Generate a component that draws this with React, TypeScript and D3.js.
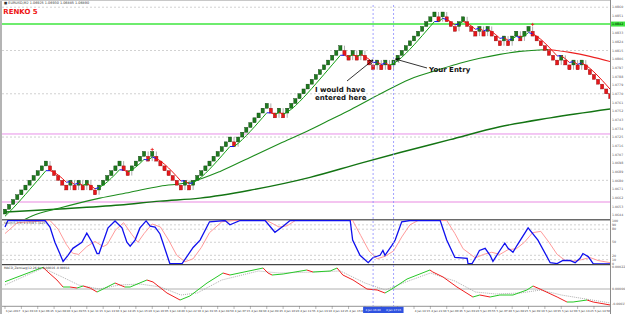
import React from "react";
import * as d3 from "d3";

const W = 625;
const H = 314;

// renko bricks (5 pip box), signed runs read left to right
const brickRuns = [
  11, -5, 1, -1, 1, -1, 1, -2, 6, -2, 4, -1, 1, -7, 1, -1, 10, -1, 1, 7, -2, 1, -1, 14,
  -1, -1, 1, -1, 1, -1, -1, -1, 1, -1, 1, -1, 1, 10,
  -1, 1, -1, -1, -1, 1, 1, -1, -1, -1, 1, -1, 1, -1, -1, -1, 1,
  -1, 1, 1, -1, 1, 1, -7, 1, -2, 1, -1, 1, -7,
];
const BOX = 5;
const BASE_PRICE = 1.0645;
const PIP = 0.0001;

// price levels in pips above base
const greenLevels = [197.5];
const pinkLevels = [83.2, 12.5];
const gridLevels = [35, 80, 125, 170, 215];

// moving averages [brick index, pips]
const midMA = [
  [3.7, -8.2], [6.6, -2.1], [13.4, 6.2], [23.2, 16.5], [30.6, 22.7], [37.9, 28.9], [45.2, 33],
  [52.6, 44.3], [59.9, 58.8], [67.2, 73.2], [74.6, 87.6], [79, 96.9], [84.4, 108.2], [91.7, 124.7],
  [99, 140.2], [106.4, 150.5], [111.2, 156.7], [116.1, 161.9], [121, 166], [125.9, 169.1],
  [132.8, 171.1], [138.1, 168], [143, 163.9], [148, 158.5],
];
const slowMA = [
  [0, 2.1], [13.4, 5.2], [28.1, 9.3], [37.9, 13.4], [47.7, 16.5], [59.9, 24.7], [74.6, 38.1],
  [86.8, 52.6], [96.6, 63.9], [108.8, 77.3], [121, 90.7], [133.3, 100], [148, 109.3],
];
const FAST_PERIOD = 5;
const FAST_SEED = -6;

// stochastic [brick index, value]
const stochMain = [
  [0, 85], [0.7, 100], [9.8, 100], [11, 85], [12.2, 50], [13.4, 24], [14.2, 6], [15.4, 20], [16.6, 36],
  [18.8, 50], [20, 71], [21.3, 50], [22.5, 24], [23, 24], [23.7, 43], [25.2, 83], [26.9, 99], [28.6, 83],
  [29.8, 50], [30.6, 41], [31.8, 55], [33, 83], [34.5, 99], [35.5, 87], [36.7, 85], [37.9, 69], [40.3, 1],
  [43.3, 1], [46, 38], [47.7, 55], [50, 97], [53.8, 100], [55, 90], [57.5, 100], [63.6, 100], [66, 73],
  [68, 87], [69.7, 100], [84.4, 100], [85, 55], [86.8, 20], [88.8, 3], [90, 15], [91.7, 20], [92.4, 31],
  [92.9, 20], [94.6, 43], [95.4, 55], [97, 97], [99, 100], [106.4, 100], [108, 55], [110, 15], [113, 13],
  [113.2, 1], [114.2, 1], [115.4, 20], [116, 31], [117.4, 36], [118.6, 20], [119.3, 6], [121, 31],
  [122.2, 48], [123, 36], [124.2, 27], [125.2, 43], [127.9, 83], [130.3, 55], [133.3, 3], [135, 1],
  [136.4, 8], [138.1, 8], [139.4, 3], [140.6, 13], [141.3, 24], [142.6, 17], [143.8, 1], [148, 0],
];
const stochSignal = [
  [0, 70], [3, 95], [11, 100], [13, 80], [15, 45], [16.5, 25], [18, 22], [20, 40], [22, 52], [24, 40],
  [25, 45], [27, 78], [29, 95], [31, 68], [32.5, 50], [34, 70], [36, 92], [38, 85], [40, 55], [42, 20],
  [44, 5], [46, 12], [48, 38], [50, 72], [53, 97], [56, 100], [64, 100], [67, 85], [69, 88], [71, 100],
  [85, 100], [87, 65], [89, 30], [91, 12], [93, 18], [95, 30], [97, 62], [99, 90], [101, 100], [108, 100],
  [110, 70], [112, 35], [115, 14], [117, 22], [119, 27], [121, 22], [123, 33], [125, 35], [127, 50],
  [129, 72], [131, 75], [133, 50], [135, 22], [137, 8], [139, 7], [141, 10], [143, 15], [145, 8], [148, 3],
];
const stochLevels = [90, 80, 50, 20, 10];

// oscillator (pips x10) [brick index, value]
const macdMain = [
  [0, 0.73], [9.3, 2.17], [10.5, 1.7], [12.7, 0.9], [14.2, 0.2], [15.9, 0.2], [17.6, 0.1], [19.1, 0.3],
  [20.8, 0.1], [22.5, -0.3], [24, 0], [26.9, 0.6], [29.3, 0.2], [30.6, 0.2], [34.7, 0.9], [36.2, 0.7],
  [39.6, -0.4], [42.8, -1.1], [45.2, -0.7], [49.4, 0.6], [53.3, 1.6], [55, 1.4], [63.1, 2.1], [64.3, 1.6],
  [65.3, 1.4], [68, 1.5], [73.8, 1.9], [75.3, 1.7], [79.5, 1.8], [81.2, 2.1], [82.6, 1.4], [85.1, 0.9],
  [88.5, 0], [91, -0.1], [92.9, -0.4], [94.6, 0], [98.3, 1], [103.9, 1.9], [104.6, 1.7], [107.1, 1.2],
  [110.5, 0.2], [114.4, -0.8], [116.1, -0.6], [118.6, -0.8], [121, -0.6], [124.2, -0.6], [127.6, -0.1],
  [129.1, 0.3], [130.8, 0], [135, -0.8], [137.4, -1.3], [138.9, -1.3], [142.3, -1.1], [143.8, -1.3],
  [148, -1.6],
];
const macdSignal = [
  [0, 0.4], [9.3, 2.1], [14, 1.2], [18, 0.4], [23, 0], [28, 0.4], [33, 0.5], [38, 0.2], [43, -0.6],
  [47, -0.4], [53, 0.9], [62, 1.8], [67, 1.6], [76, 1.7], [82, 1.8], [88, 0.6], [93, -0.1], [98, 0.7],
  [104, 1.6], [110, 0.8], [115, -0.3], [120, -0.5], [126, -0.4], [131, -0.1], [136, -0.6], [142, -1],
  [148, -1.4],
];

const timeLabels = [
  "3 Jan 2017", "3 Jan 03:10", "3 Jan 06:25", "3 Jan 08:40", "3 Jan 09:55", "3 Jan 11:15", "3 Jan 13:30",
  "3 Jan 14:45", "3 Jan 15:20", "3 Jan 16:05", "3 Jan 18:40", "3 Jan 22:10", "4 Jan 01:35", "4 Jan 04:50",
  "4 Jan 07:15", "4 Jan 08:30", "4 Jan 09:45", "4 Jan 10:20", "4 Jan 11:55", "4 Jan 13:10", "4 Jan 14:25",
  "4 Jan 15:05", "4 Jan 15:40", "4 Jan 16:35", "4 Jan 17:50", "4 Jan 19:15", "4 Jan 21:30", "5 Jan 00:45",
  "5 Jan 03:20", "5 Jan 05:55", "5 Jan 07:40", "5 Jan 08:25", "5 Jan 09:10", "5 Jan 10:35", "5 Jan 12:00",
  "5 Jan 13:25", "5 Jan 14:50",
];
const entryBricks = [90, 95];
const entryTimes = ["4 Jan 16:40", "4 Jan 17:15"];
const signalBricks = [36, 129];

// build bricks
type Brick = { i: number; lo: number; hi: number; dir: number; wl: number; wh: number };
const bricks: Brick[] = [];
{
  let low = -1;
  let prev = 1;
  brickRuns.forEach((r) => {
    const d = Math.sign(r);
    for (let k = 0; k < Math.abs(r); k++) {
      low += d;
      const lo = low * BOX;
      const hi = lo + BOX;
      let wl = lo;
      let wh = hi;
      if (bricks.length && d !== prev) {
        if (d < 0) wh = hi + BOX;
        else wl = lo - BOX;
      }
      bricks.push({ i: bricks.length, lo, hi, dir: d, wl, wh });
      prev = d;
    }
  });
}

const fastAlpha = 2 / (FAST_PERIOD + 1);
const fastMA: number[] = [];
{
  let e = FAST_SEED;
  bricks.forEach((b) => {
    const c = b.dir > 0 ? b.hi : b.lo;
    e = e + fastAlpha * (c - e);
    fastMA.push(e);
  });
}

const PL = 2;
const PR = 610;
const MAIN = [5, 219];
const STO = [220, 264];
const OSC = [265, 306];

const x = d3.scaleLinear().domain([0, bricks.length - 1]).range([5, 5 + (bricks.length - 1) * 4.09]);
const yMain = d3.scaleLinear().domain([-5.2, 217.3]).range([MAIN[1], MAIN[0]]);
const ySto = d3.scaleLinear().domain([0, 100]).range([264, 220.5]);
const yOsc = d3.scaleLinear().domain([-1.7, 2.4]).range([306, 265]);

const fmt = (p: number) => (BASE_PRICE + p * PIP).toFixed(4);

function colored(pts: number[][], ys: (v: number) => number, up: string, dn: string, flat?: string, thr = 0) {
  const segs: { d: string; c: string }[] = [];
  for (let k = 1; k < pts.length; k++) {
    const dv = pts[k][1] - pts[k - 1][1];
    let c = dv >= 0 ? up : dn;
    if (flat && Math.abs(dv) < thr) c = flat;
    segs.push({ d: `M${x(pts[k - 1][0])},${ys(pts[k - 1][1])}L${x(pts[k][0])},${ys(pts[k][1])}`, c });
  }
  return segs;
}

export default function App() {
  const lineMain = d3.line<number[]>().x((d) => x(d[0])).y((d) => yMain(d[1])).curve(d3.curveMonotoneX);
  const lineSto = d3.line<number[]>().x((d) => x(d[0])).y((d) => ySto(d[1]));
  const lineOsc = d3.line<number[]>().x((d) => x(d[0])).y((d) => yOsc(d[1]));

  const midTop = d3.maxIndex(midMA, (d) => d[1]);
  const fastPts = fastMA.map((v, i) => [i, v]);
  const fastSegs = colored(fastPts, yMain, "#12a012", "#f01414", "#1414f0", 1.6);
  const oscSegs = colored(macdMain, yOsc, "#27c827", "#f02020");

  const priceTicks = d3.range(-1, 217, 9);
  const tipA = [x(entryBricks[0]), yMain(bricks[entryBricks[0]].hi) - 5];
  const tipB = [x(entryBricks[1]) + 2, yMain(bricks[entryBricks[1]].hi) - 1];
  const tiny = { fontFamily: "DejaVu Sans", fontSize: 3.4 };

  // time labels hidden under the blue entry boxes
  const boxL = x(entryBricks[0]) - 10;
  const boxR = x(entryBricks[1]) + 10;
  const shownTimes = timeLabels
    .map((t, k) => ({ t, i: k * 4 }))
    .filter((d) => x(d.i) + 14 < boxL || x(d.i) > boxR);

  return (
    <svg width={W} height={H} style={{ position: "absolute", left: 0, top: 0, background: "#fff" }}>
      <defs>
        <clipPath id="cm"><rect x={PL} y={MAIN[0]} width={PR - PL} height={MAIN[1] - MAIN[0]} /></clipPath>
        <clipPath id="cs"><rect x={PL} y={STO[0]} width={PR - PL} height={STO[1] - STO[0]} /></clipPath>
        <clipPath id="co"><rect x={PL} y={OSC[0]} width={PR - PL} height={OSC[1] - OSC[0]} /></clipPath>
        <marker id="ah" viewBox="0 0 10 10" refX="9" refY="5" markerWidth="7" markerHeight="7" orient="auto">
          <path d="M1,1 L9,5 L1,9" fill="none" stroke="#000" strokeWidth="1.2" />
        </marker>
      </defs>
      <rect x={0} y={0} width={W} height={H} fill="#fff" />
      <rect x={0} y={0} width={2} height={H} fill="#b4b4b4" />
      <line x1={0} x2={W} y1={0.5} y2={0.5} stroke="#c8c8c8" />
      <text x={4} y={3.6} {...tiny} fill="#333">■ EURUSD,M2  1.06925 1.06930 1.06885 1.06890</text>

      {/* main panel */}
      {gridLevels.map((g) => (
        <line key={g} x1={PL} x2={PR} y1={yMain(g)} y2={yMain(g)} stroke="#bdbdbd" strokeWidth={0.7} strokeDasharray="2,2" />
      ))}
      <g clipPath="url(#cm)">
        {greenLevels.map((g) => (
          <line key={g} x1={PL} x2={PR} y1={yMain(g)} y2={yMain(g)} stroke="#3ee63e" strokeWidth={1.4} />
        ))}
        <line x1={PL} x2={PR} y1={yMain(pinkLevels[0])} y2={yMain(pinkLevels[0])} stroke="#e890e8" strokeWidth={1} />
        <line x1={PL} x2={PR} y1={yMain(pinkLevels[1])} y2={yMain(pinkLevels[1])} stroke="#f4c4f0" strokeWidth={2} />
        <path d={lineMain(slowMA) || ""} fill="none" stroke="#137413" strokeWidth={1.4} />
        <path d={lineMain(midMA.slice(0, midTop + 1)) || ""} fill="none" stroke="#1c8c1c" strokeWidth={1.1} />
        <path d={lineMain(midMA.slice(midTop)) || ""} fill="none" stroke="#ec2020" strokeWidth={1.1} />
        {bricks.map((b) => (
          <line key={"w" + b.i} x1={x(b.i)} x2={x(b.i)} y1={yMain(b.wh)} y2={yMain(b.wl)} stroke="#8a8a8a" strokeWidth={0.7} />
        ))}
        {bricks.map((b) => (
          <rect key={"b" + b.i} x={x(b.i) - 1.6} width={3.2} y={yMain(b.hi)} height={yMain(b.lo) - yMain(b.hi)}
            fill={b.dir > 0 ? "#1d7a1d" : "#e8161a"} stroke={b.dir > 0 ? "#0b3b0b" : "#8a0a0a"} strokeWidth={0.4} />
        ))}
        {fastSegs.map((s, k) => (
          <path key={"f" + k} d={s.d} stroke={s.c} strokeWidth={1} fill="none" />
        ))}
        {signalBricks.map((i) => (
          <g key={"s" + i} stroke="#e82020" strokeWidth={0.8}>
            <line x1={x(i) - 1.6} x2={x(i) + 1.6} y1={yMain(bricks[i].wh) - 2} y2={yMain(bricks[i].wh) - 2} />
            <line x1={x(i)} x2={x(i)} y1={yMain(bricks[i].wh) - 3.6} y2={yMain(bricks[i].wh) - 0.4} />
          </g>
        ))}
      </g>
      <text x={3.3} y={14} fontFamily="DejaVu Sans" fontWeight="bold" fontSize={7} fill="#ee1414">RENKO 5</text>

      {/* annotations */}
      <line x1={347} y1={81} x2={tipA[0]} y2={tipA[1]} stroke="#000" strokeWidth={0.8} markerEnd="url(#ah)" />
      <line x1={427} y1={68} x2={tipB[0]} y2={tipB[1]} stroke="#000" strokeWidth={0.8} markerEnd="url(#ah)" />
      <g fontFamily="DejaVu Sans" fontWeight="bold" fontSize={7} fill="#111">
        <text x={315} y={92}>I would have</text>
        <text x={315} y={100}>entered here</text>
        <text x={429} y={72}>Your Entry</text>
      </g>

      {/* stochastic */}
      <line x1={PL} x2={W} y1={219.8} y2={219.8} stroke="#6a6a6a" strokeWidth={1.4} />
      {stochLevels.map((l) => (
        <line key={l} x1={PL} x2={PR} y1={ySto(l)} y2={ySto(l)} stroke="#bdbdbd" strokeWidth={0.7} strokeDasharray="2,2" />
      ))}
      <g clipPath="url(#cs)">
        <path d={lineSto(stochSignal) || ""} fill="none" stroke="#ff8e8e" strokeWidth={0.9} />
        <path d={lineSto(stochMain) || ""} fill="none" stroke="#1010ee" strokeWidth={1.3} />
      </g>
      <text x={4} y={224} {...tiny} fontSize={3} fill="#333">Stoch(5,3,3) 1.1719 5.3125</text>

      {/* oscillator */}
      <line x1={PL} x2={W} y1={264.6} y2={264.6} stroke="#444" strokeWidth={1.4} />
      <line x1={PL} x2={PR} y1={yOsc(0)} y2={yOsc(0)} stroke="#b0b0b0" strokeWidth={1} />
      <g clipPath="url(#co)">
        <path d={lineOsc(macdSignal) || ""} fill="none" stroke="#9a9a9a" strokeWidth={0.8} strokeDasharray="1,1" />
        {oscSegs.map((s, k) => (
          <path key={"o" + k} d={s.d} stroke={s.c} strokeWidth={1} fill="none" />
        ))}
      </g>
      <text x={4} y={269} {...tiny} fontSize={3} fill="#333">MACD_ZeroLag(12,26,9) -0.00016 -0.00014</text>

      {/* entry verticals */}
      {entryBricks.map((i) => (
        <line key={"v" + i} x1={x(i)} x2={x(i)} y1={MAIN[0]} y2={306} stroke="#8c8cff" strokeWidth={0.8} strokeDasharray="2,2" />
      ))}

      {/* time axis */}
      <line x1={PL} x2={PR} y1={306.3} y2={306.3} stroke="#777" strokeWidth={0.8} />
      {timeLabels.map((t, k) => (
        <line key={"tk" + k} x1={x(k * 4)} x2={x(k * 4)} y1={306} y2={309} stroke="#777" strokeWidth={0.5} />
      ))}
      {shownTimes.map((d) => (
        <text key={"t" + d.i} x={x(d.i) + 0.8} y={311.5} {...tiny} fontSize={2.7} fill="#333">{d.t}</text>
      ))}
      <rect x={boxL} y={306.8} width={boxR - boxL} height={6.2} fill="#2f52e0" />
      {entryBricks.map((i, k) => (
        <text key={"e" + i} x={x(i)} y={311.4} {...tiny} fontSize={2.7} textAnchor="middle" fill="#fff">{entryTimes[k]}</text>
      ))}

      {/* right axes */}
      <rect x={PR} y={0} width={W - PR} height={H} fill="#fff" />
      <line x1={PR + 0.5} x2={PR + 0.5} y1={0} y2={H} stroke="#8a8a8a" strokeWidth={1} />
      {priceTicks.map((p) => (
        <text key={"p" + p} x={612} y={yMain(p) + 1.2} {...tiny} fontSize={3.2} fill="#555">{fmt(p)}</text>
      ))}
      {greenLevels.map((g) => (
        <g key={"gl" + g}>
          <rect x={PR + 1} y={yMain(g) - 2.5} width={W - PR - 1} height={5} fill="#3ee63e" />
          <text x={612} y={yMain(g) + 1.2} {...tiny} fontSize={3.2} fill="#000">{fmt(g)}</text>
        </g>
      ))}
      {[100, ...stochLevels, 0].map((l) => (
        <text key={"sl" + l} x={612} y={ySto(l) + 1.2} {...tiny} fontSize={3.2} fill="#555">{l}</text>
      ))}
      {[2.2, 0, -1.5].map((v) => (
        <text key={"ol" + v} x={612} y={yOsc(v) + 1.2} {...tiny} fontSize={3.2} fill="#555">{(v * 0.0001).toFixed(5)}</text>
      ))}
    </svg>
  );
}
